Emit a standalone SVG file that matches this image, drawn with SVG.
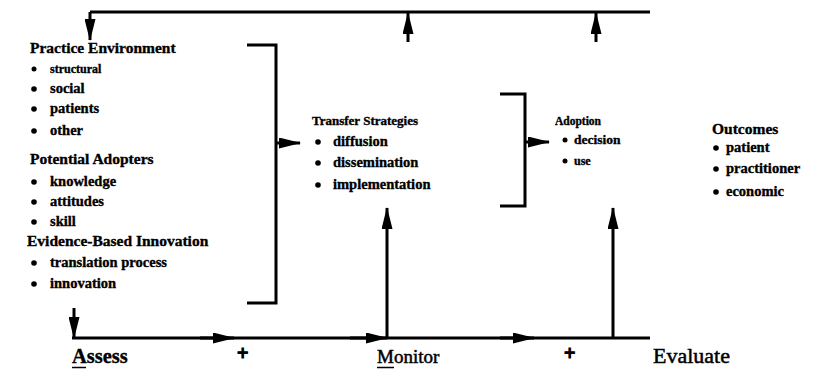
<svg xmlns="http://www.w3.org/2000/svg" width="826" height="371" viewBox="0 0 826 371">
<style>
  .ln { fill: none; stroke: #000; stroke-width: 3; stroke-linecap: butt; stroke-linejoin: miter; }
  .t { font-family: "Liberation Serif", "Times New Roman", serif; font-weight: bold; fill: #000; stroke: #000; stroke-width: 0.35; }
  .h { font-size: 15.5px; }
  .i { font-size: 14.5px; }
  .s { font-size: 12px; }
  .reg { font-weight: normal; stroke-width: 0.5; }
  .plus { font-size: 20px; stroke-width: 1.2; }
  .b { fill: #000; }
</style>
<defs>
  <marker id="ah" markerUnits="userSpaceOnUse" markerWidth="22" markerHeight="11" refX="21" refY="5.5" orient="auto">
    <path d="M0,0 L22,5.5 L0,11 Z" fill="#000"/>
  </marker>
</defs>
<rect width="826" height="371" fill="#fff"/>

<g id="connectors">
  <path class="ln" d="M90,12 H650"/>
  <path class="ln" d="M90,12 V40" marker-end="url(#ah)"/>
  <path class="ln" d="M408,42 V13" marker-end="url(#ah)"/>
  <path class="ln" d="M596,42 V13" marker-end="url(#ah)"/>
  <path class="ln" d="M247,45 H276 V303 H247"/>
  <path class="ln" d="M276,143 H300" marker-end="url(#ah)"/>
  <path class="ln" d="M500,94 H525 V206 H500"/>
  <path class="ln" d="M525,142 H549" marker-end="url(#ah)"/>
  <path class="ln" d="M72,338 H650"/>
  <path class="ln" d="M74,308 V338" marker-end="url(#ah)"/>
  <path class="ln" d="M200,338 H234" marker-end="url(#ah)"/>
  <path class="ln" d="M350,338 H387" marker-end="url(#ah)"/>
  <path class="ln" d="M500,338 H534" marker-end="url(#ah)"/>
  <path class="ln" d="M387,338 V208" marker-end="url(#ah)"/>
  <path class="ln" d="M613,338 V208" marker-end="url(#ah)"/>
</g>

<g id="practice-environment">
  <text class="t h" x="30" y="53">Practice Environment</text>
  <circle class="b" cx="34" cy="69" r="2.5"/><text class="t s" x="50" y="73">structural</text>
  <circle class="b" cx="34" cy="89" r="2.8"/><text class="t i" x="50" y="93">social</text>
  <circle class="b" cx="34" cy="109" r="2.8"/><text class="t i" x="50" y="113">patients</text>
  <circle class="b" cx="34" cy="131" r="2.8"/><text class="t i" x="50" y="135">other</text>
</g>

<g id="potential-adopters">
  <text class="t h" x="30" y="164">Potential Adopters</text>
  <circle class="b" cx="34" cy="182" r="2.8"/><text class="t i" x="50" y="186">knowledge</text>
  <circle class="b" cx="34" cy="202" r="2.8"/><text class="t i" x="50" y="206">attitudes</text>
  <circle class="b" cx="34" cy="222" r="2.8"/><text class="t i" x="50" y="226">skill</text>
</g>

<g id="evidence-based-innovation">
  <text class="t h" x="27" y="246">Evidence-Based Innovation</text>
  <circle class="b" cx="34" cy="263" r="2.8"/><text class="t i" x="50" y="267">translation process</text>
  <circle class="b" cx="34" cy="284" r="2.8"/><text class="t i" x="50" y="288">innovation</text>
</g>

<g id="transfer-strategies">
  <text class="t" style="font-size:13px" x="312" y="125">Transfer Strategies</text>
  <circle class="b" cx="318" cy="142" r="2.8"/><text class="t i" x="333" y="146">diffusion</text>
  <circle class="b" cx="318" cy="163" r="2.8"/><text class="t i" x="333" y="167">dissemination</text>
  <circle class="b" cx="318" cy="185" r="2.8"/><text class="t i" x="333" y="189">implementation</text>
</g>

<g id="adoption">
  <text class="t" style="font-size:11.5px" x="555" y="125">Adoption</text>
  <circle class="b" cx="565" cy="140" r="2.5"/><text class="t" style="font-size:13.5px" x="574" y="144">decision</text>
  <circle class="b" cx="565" cy="161" r="2.5"/><text class="t" style="font-size:12px" x="574" y="165">use</text>
</g>

<g id="outcomes">
  <text class="t h" x="712" y="134">Outcomes</text>
  <circle class="b" cx="716" cy="148" r="2.8"/><text class="t i" x="726" y="152">patient</text>
  <circle class="b" cx="716" cy="169" r="2.8"/><text class="t i" x="726" y="173">practitioner</text>
  <circle class="b" cx="716" cy="192" r="2.8"/><text class="t i" x="726" y="196">economic</text>
</g>

<g id="assess">
  <text class="t" style="font-size:20.5px" x="72" y="363">Assess</text>
  <path class="ln" style="stroke-width:1.5" d="M72,367.5 H86"/>
</g>
<text class="t plus" x="237" y="360">+</text>
<g id="monitor">
  <text class="t reg" style="font-size:19px" x="377" y="363">Monitor</text>
  <path class="ln" style="stroke-width:1.5" d="M377,367.5 H394"/>
</g>
<text class="t plus" x="564" y="360">+</text>
<g id="evaluate">
  <text class="t reg" style="font-size:22px" x="653" y="363">Evaluate</text>
</g>
</svg>
